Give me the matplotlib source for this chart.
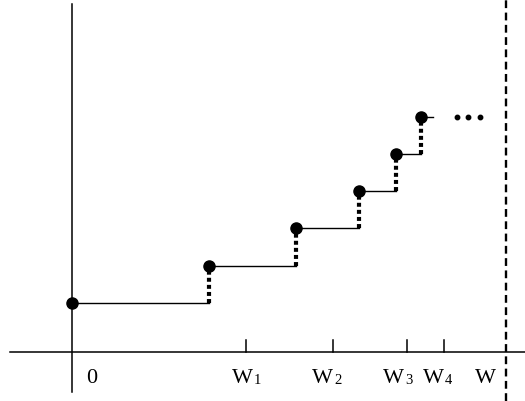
import matplotlib
matplotlib.use("Agg")
import matplotlib.pyplot as plt

plt.rcParams['font.family'] = ['Liberation Serif', 'DejaVu Serif']

# step function: jump positions and levels
jump_x = [0, 137, 224, 287, 324, 349]
level_y = [49, 86, 124, 161, 198, 235]
tail_end = 361
ellipsis_x = [385, 396, 408]

# marks on the horizontal axis
tick_x = [174, 261, 335, 372]
tick_subs = ['1', '2', '3', '4']
label_left = [160, 240, 311, 351]
bound_x = 434

fig = plt.figure(figsize=(5.25, 4.01), dpi=100)
ax = fig.add_axes([0, 0, 1, 1])
ax.set_xlim(-72, 453)
ax.set_ylim(-49, 352)
ax.axis('off')

# axes lines
ax.plot([-62, 453], [0, 0], color='black', lw=1.1)
ax.plot([0, 0], [-40, 348], color='black', lw=1.1)

# horizontal pieces of the staircase, dotted risers
for i in range(len(jump_x)):
    x_end = jump_x[i + 1] if i + 1 < len(jump_x) else tail_end
    ax.plot([jump_x[i], x_end], [level_y[i], level_y[i]], color='black', lw=1.0)
    if i > 0:
        ax.plot([jump_x[i], jump_x[i]], [level_y[i - 1], level_y[i]],
                color='black', lw=3.0, linestyle=(0, (0.95, 0.75)))

ax.plot(jump_x, level_y, 'o', color='black', markersize=8)
ax.plot(ellipsis_x, [level_y[-1]] * 3, 'o', color='black', markersize=3.2)

# tick marks and labels W with subscripts
base = -31
for x, sub, lx in zip(tick_x, tick_subs, label_left):
    ax.plot([x, x], [0, 12], color='black', lw=1.1)
    ax.text(lx, base, 'W', ha='left', va='baseline', fontsize=16)
    ax.text(lx + 22, base - 1, sub, ha='left', va='baseline', fontsize=10.5)
ax.text(19.5, base, '0', ha='center', va='baseline', fontsize=16)
ax.text(403, base, 'W', ha='left', va='baseline', fontsize=16)

# upper bound
ax.plot([bound_x, bound_x], [-49, 352], color='black', lw=1.7,
        linestyle=(0, (3.3, 1.9)))

fig.savefig('out.png', dpi=100)
